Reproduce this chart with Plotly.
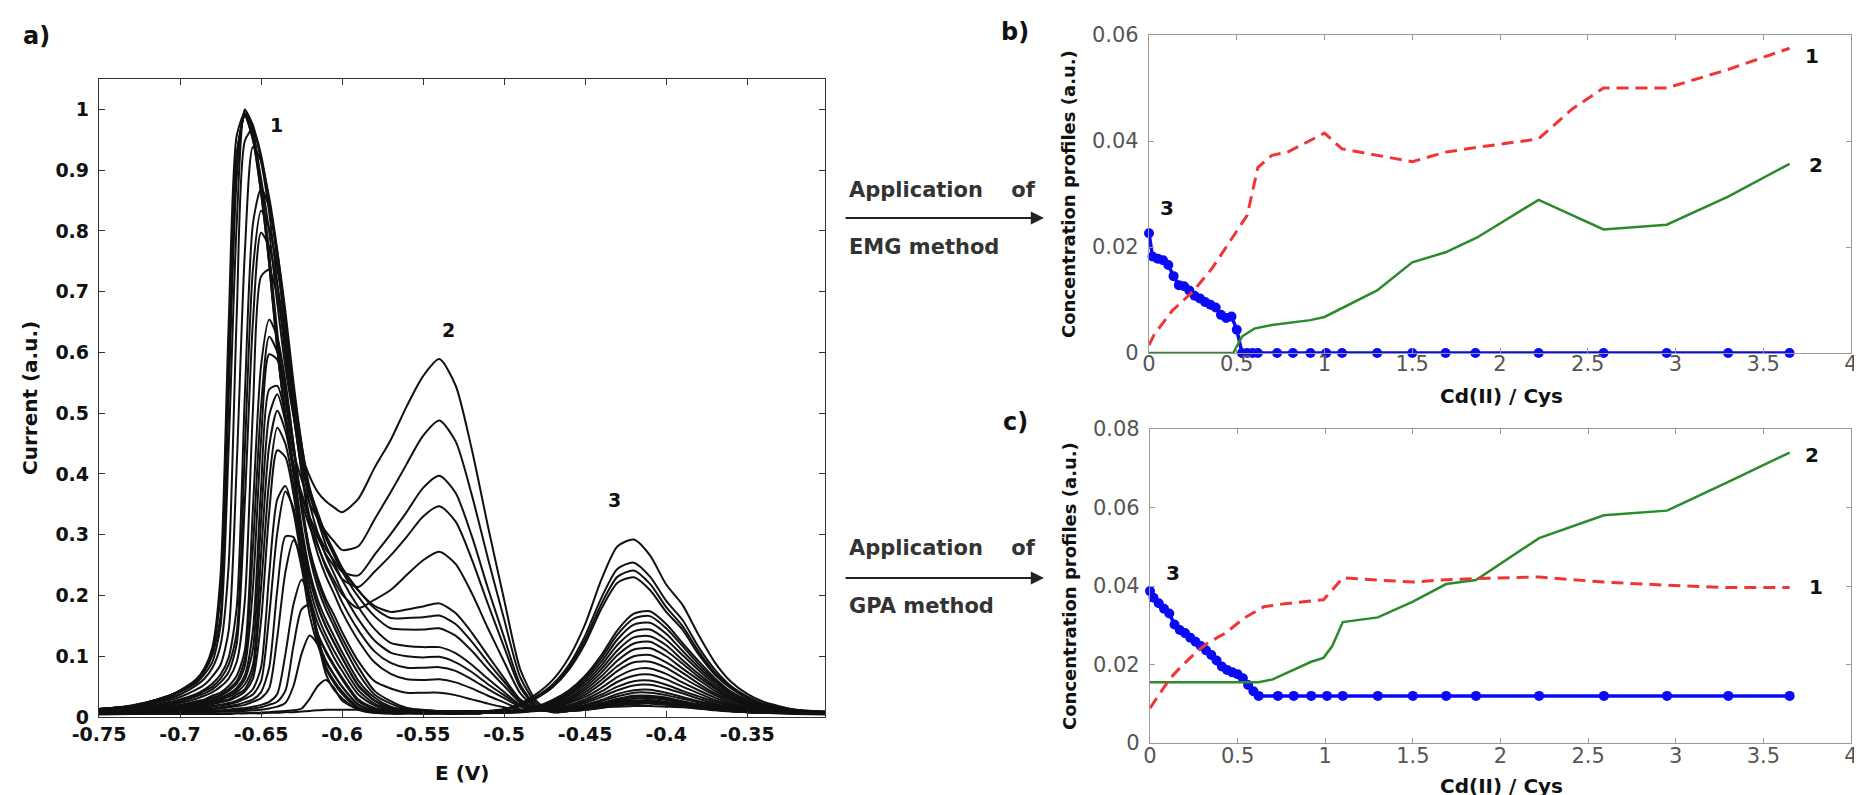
import plotly.graph_objects as go

W, H = 1862, 795

# ---------------- panel a) voltammograms ----------------
E = [-0.75, -0.73, -0.71, -0.70, -0.69, -0.685, -0.68, -0.675, -0.67, -0.665,
     -0.66, -0.655, -0.65, -0.645, -0.64, -0.635, -0.63, -0.625, -0.62, -0.615,
     -0.61, -0.605, -0.60, -0.59, -0.58, -0.57, -0.56, -0.55, -0.54, -0.53,
     -0.52, -0.51, -0.50, -0.49, -0.48, -0.47, -0.46, -0.45, -0.44, -0.43,
     -0.42, -0.41, -0.40, -0.39, -0.38, -0.37, -0.36, -0.35, -0.34, -0.32, -0.302]

i_00 = [0.004,0.005,0.005,0.005,0.005,0.005,0.005,0.005,0.005,0.006,
        0.006,0.006,0.006,0.007,0.007,0.008,0.008,0.009,0.010,0.011,
        0.012,0.012,0.012,0.012,0.012,0.011,0.011,0.010,0.010,0.010,
        0.010,0.010,0.010,0.010,0.011,0.012,0.013,0.014,0.016,0.017,
        0.018,0.018,0.017,0.016,0.014,0.012,0.010,0.008,0.007,0.005,0.004]
i_01 = [0.006,0.006,0.006,0.006,0.006,0.006,0.006,0.006,0.006,0.006,
        0.006,0.007,0.007,0.008,0.009,0.010,0.011,0.014,0.030,0.051,
        0.061,0.048,0.027,0.013,0.007,0.006,0.006,0.006,0.006,0.006,
        0.007,0.010,0.013,0.022,0.038,0.061,0.098,0.153,0.226,0.281,
        0.292,0.266,0.218,0.185,0.135,0.090,0.058,0.038,0.025,0.012,0.009]
i_02 = [0.007,0.007,0.007,0.007,0.008,0.008,0.008,0.009,0.009,0.010,
        0.010,0.011,0.012,0.014,0.017,0.023,0.051,0.104,0.134,0.119,
        0.071,0.045,0.031,0.012,0.007,0.006,0.006,0.006,0.006,0.006,
        0.007,0.009,0.012,0.020,0.034,0.054,0.086,0.134,0.196,0.244,
        0.254,0.231,0.191,0.160,0.115,0.078,0.051,0.034,0.022,0.012,0.009]
i_03 = [0.007,0.007,0.007,0.008,0.008,0.009,0.009,0.010,0.011,0.012,
        0.013,0.014,0.016,0.020,0.025,0.043,0.117,0.177,0.185,0.136,
        0.080,0.056,0.038,0.014,0.008,0.006,0.006,0.006,0.006,0.006,
        0.007,0.009,0.012,0.019,0.032,0.051,0.082,0.127,0.186,0.231,
        0.241,0.219,0.181,0.150,0.108,0.073,0.049,0.032,0.021,0.011,0.008]
i_04 = [0.007,0.007,0.008,0.008,0.009,0.010,0.010,0.011,0.012,0.014,
        0.015,0.017,0.020,0.025,0.038,0.103,0.185,0.226,0.196,0.127,
        0.083,0.060,0.042,0.016,0.008,0.006,0.006,0.006,0.006,0.006,
        0.007,0.009,0.012,0.018,0.031,0.049,0.078,0.121,0.178,0.221,
        0.230,0.209,0.173,0.144,0.103,0.070,0.047,0.031,0.021,0.011,0.008]
i_05 = [0.007,0.007,0.009,0.009,0.011,0.012,0.013,0.014,0.016,0.018,
        0.020,0.025,0.031,0.047,0.131,0.238,0.291,0.262,0.191,0.127,
        0.093,0.070,0.050,0.020,0.010,0.008,0.007,0.006,0.006,0.006,
        0.007,0.007,0.009,0.011,0.017,0.028,0.044,0.068,0.102,0.143,
        0.170,0.174,0.153,0.122,0.092,0.064,0.042,0.028,0.019,0.010,0.008]
i_06 = [0.007,0.008,0.009,0.010,0.012,0.013,0.014,0.016,0.018,0.020,
        0.024,0.029,0.041,0.081,0.209,0.297,0.296,0.246,0.168,0.119,
        0.090,0.069,0.050,0.021,0.011,0.008,0.007,0.006,0.006,0.006,
        0.007,0.007,0.008,0.011,0.017,0.027,0.042,0.065,0.097,0.136,
        0.162,0.166,0.146,0.117,0.087,0.061,0.040,0.027,0.018,0.010,0.008]
i_07 = [0.008,0.008,0.010,0.011,0.014,0.015,0.017,0.019,0.021,0.024,
        0.030,0.037,0.059,0.166,0.303,0.371,0.344,0.271,0.189,0.137,
        0.106,0.083,0.062,0.026,0.013,0.009,0.008,0.007,0.006,0.006,
        0.007,0.007,0.008,0.011,0.016,0.026,0.039,0.061,0.091,0.128,
        0.152,0.155,0.137,0.109,0.082,0.058,0.038,0.026,0.017,0.009,0.008]
i_08 = [0.008,0.008,0.010,0.012,0.014,0.016,0.018,0.020,0.023,0.027,
        0.034,0.046,0.082,0.234,0.358,0.380,0.337,0.259,0.185,0.137,
        0.109,0.086,0.065,0.029,0.015,0.010,0.008,0.007,0.007,0.006,
        0.006,0.007,0.008,0.010,0.015,0.024,0.037,0.057,0.085,0.119,
        0.141,0.144,0.127,0.102,0.077,0.054,0.036,0.024,0.017,0.009,0.007]
i_09 = [0.008,0.009,0.011,0.014,0.016,0.018,0.021,0.024,0.027,0.033,
        0.042,0.063,0.158,0.336,0.439,0.428,0.367,0.279,0.200,0.154,
        0.125,0.098,0.076,0.037,0.019,0.011,0.009,0.008,0.007,0.006,
        0.006,0.007,0.008,0.010,0.015,0.023,0.035,0.053,0.079,0.110,
        0.131,0.133,0.118,0.094,0.071,0.050,0.033,0.023,0.016,0.009,0.007]
i_10 = [0.008,0.009,0.012,0.014,0.017,0.020,0.022,0.026,0.029,0.037,
        0.046,0.074,0.213,0.389,0.476,0.450,0.382,0.293,0.215,0.167,
        0.135,0.109,0.086,0.044,0.022,0.013,0.010,0.008,0.007,0.007,
        0.006,0.007,0.008,0.010,0.014,0.022,0.032,0.049,0.073,0.102,
        0.121,0.124,0.109,0.088,0.066,0.047,0.031,0.022,0.015,0.009,0.007]
i_11 = [0.009,0.009,0.012,0.015,0.019,0.021,0.024,0.028,0.033,0.041,
        0.054,0.086,0.266,0.446,0.504,0.471,0.401,0.306,0.231,0.181,
        0.149,0.122,0.097,0.053,0.027,0.015,0.011,0.009,0.008,0.007,
        0.006,0.007,0.008,0.009,0.013,0.020,0.030,0.045,0.067,0.093,
        0.111,0.113,0.100,0.080,0.061,0.043,0.029,0.020,0.014,0.008,0.007]
i_12 = [0.009,0.009,0.013,0.016,0.020,0.022,0.026,0.030,0.036,0.045,
        0.062,0.112,0.324,0.496,0.531,0.486,0.406,0.306,0.229,0.184,
        0.149,0.123,0.098,0.051,0.027,0.015,0.011,0.009,0.008,0.007,
        0.006,0.007,0.008,0.009,0.012,0.019,0.028,0.041,0.061,0.084,
        0.100,0.102,0.090,0.073,0.055,0.039,0.027,0.019,0.013,0.008,0.007]
i_13 = [0.009,0.010,0.013,0.017,0.021,0.024,0.027,0.032,0.038,0.048,
        0.069,0.143,0.377,0.539,0.545,0.496,0.413,0.314,0.240,0.193,
        0.160,0.133,0.107,0.060,0.032,0.017,0.012,0.010,0.008,0.007,
        0.006,0.007,0.007,0.009,0.012,0.017,0.025,0.037,0.055,0.076,
        0.090,0.091,0.081,0.065,0.050,0.036,0.024,0.017,0.013,0.008,0.007]
i_14 = [0.009,0.010,0.014,0.018,0.023,0.026,0.030,0.035,0.043,0.055,
        0.084,0.213,0.456,0.597,0.588,0.531,0.441,0.342,0.264,0.213,
        0.177,0.149,0.121,0.072,0.037,0.022,0.013,0.011,0.009,0.008,
        0.006,0.007,0.007,0.008,0.011,0.016,0.023,0.033,0.048,0.066,
        0.078,0.080,0.071,0.057,0.044,0.032,0.022,0.016,0.012,0.008,0.007]
i_15 = [0.009,0.010,0.015,0.019,0.024,0.028,0.032,0.037,0.046,0.059,
        0.096,0.279,0.511,0.626,0.601,0.542,0.449,0.350,0.273,0.223,
        0.187,0.158,0.130,0.082,0.043,0.026,0.015,0.012,0.010,0.008,
        0.006,0.007,0.007,0.008,0.010,0.015,0.020,0.029,0.042,0.058,
        0.068,0.070,0.062,0.050,0.039,0.028,0.020,0.015,0.011,0.007,0.007]
i_16 = [0.009,0.011,0.016,0.020,0.026,0.029,0.035,0.040,0.051,0.068,
        0.110,0.344,0.578,0.654,0.625,0.553,0.450,0.353,0.276,0.229,
        0.194,0.168,0.140,0.092,0.059,0.047,0.040,0.040,0.040,0.036,
        0.029,0.022,0.016,0.011,0.011,0.013,0.018,0.026,0.037,0.050,
        0.059,0.060,0.053,0.043,0.034,0.025,0.018,0.013,0.010,0.007,0.007]
i_17 = [0.010,0.011,0.018,0.023,0.030,0.035,0.041,0.050,0.063,0.091,
        0.192,0.506,0.725,0.736,0.692,0.611,0.501,0.402,0.318,0.268,
        0.232,0.203,0.173,0.126,0.090,0.071,0.062,0.061,0.062,0.057,
        0.047,0.035,0.024,0.013,0.011,0.012,0.017,0.023,0.033,0.044,
        0.052,0.053,0.047,0.039,0.030,0.022,0.016,0.012,0.010,0.007,0.007]
i_18 = [0.010,0.013,0.020,0.025,0.034,0.039,0.046,0.057,0.074,0.121,
        0.354,0.651,0.797,0.774,0.711,0.625,0.508,0.407,0.329,0.284,
        0.246,0.218,0.189,0.143,0.108,0.089,0.081,0.081,0.082,0.076,
        0.062,0.046,0.031,0.017,0.011,0.011,0.015,0.020,0.028,0.038,
        0.044,0.045,0.040,0.033,0.026,0.020,0.014,0.011,0.009,0.007,0.006]
i_19 = [0.011,0.014,0.021,0.027,0.036,0.043,0.050,0.063,0.086,0.140,
        0.439,0.737,0.833,0.805,0.739,0.649,0.530,0.428,0.351,0.303,
        0.265,0.236,0.207,0.161,0.126,0.106,0.100,0.098,0.099,0.090,
        0.074,0.054,0.036,0.019,0.011,0.011,0.014,0.019,0.026,0.034,
        0.040,0.040,0.036,0.030,0.024,0.018,0.013,0.011,0.009,0.007,0.006]
i_20 = [0.011,0.014,0.023,0.029,0.038,0.045,0.055,0.070,0.098,0.181,
        0.529,0.812,0.869,0.839,0.766,0.668,0.551,0.449,0.368,0.324,
        0.283,0.254,0.226,0.181,0.145,0.122,0.117,0.115,0.115,0.105,
        0.086,0.063,0.041,0.020,0.012,0.010,0.013,0.017,0.023,0.030,
        0.035,0.035,0.032,0.026,0.021,0.016,0.012,0.010,0.008,0.007,0.006]
i_21 = [0.012,0.016,0.026,0.033,0.045,0.053,0.067,0.086,0.142,0.416,
        0.765,0.938,0.915,0.855,0.768,0.658,0.539,0.449,0.377,0.333,
        0.295,0.266,0.240,0.198,0.166,0.146,0.144,0.144,0.146,0.134,
        0.109,0.079,0.051,0.024,0.013,0.010,0.012,0.016,0.022,0.028,
        0.033,0.033,0.030,0.025,0.020,0.016,0.012,0.010,0.008,0.007,0.006]
i_22 = [0.012,0.017,0.028,0.037,0.052,0.063,0.081,0.118,0.249,0.662,
        0.948,0.968,0.925,0.848,0.752,0.634,0.519,0.435,0.375,0.336,
        0.300,0.273,0.246,0.209,0.179,0.163,0.163,0.164,0.167,0.153,
        0.124,0.090,0.058,0.027,0.014,0.009,0.012,0.015,0.020,0.026,
        0.030,0.031,0.028,0.023,0.019,0.015,0.011,0.009,0.008,0.007,0.006]
i_23 = [0.012,0.018,0.030,0.041,0.056,0.070,0.091,0.150,0.443,0.814,
        0.998,0.974,0.915,0.831,0.714,0.593,0.496,0.413,0.365,0.327,
        0.295,0.268,0.243,0.208,0.183,0.173,0.177,0.182,0.187,0.171,
        0.139,0.101,0.064,0.029,0.014,0.009,0.011,0.014,0.018,0.024,
        0.027,0.028,0.025,0.021,0.017,0.014,0.011,0.009,0.008,0.007,0.006]
i_24 = [0.013,0.018,0.031,0.042,0.059,0.075,0.102,0.167,0.527,0.888,
        1.000,0.966,0.876,0.762,0.611,0.496,0.410,0.355,0.313,0.281,
        0.250,0.225,0.202,0.179,0.193,0.209,0.234,0.258,0.272,0.252,
        0.204,0.146,0.091,0.039,0.015,0.009,0.010,0.013,0.017,0.022,
        0.025,0.026,0.023,0.020,0.016,0.013,0.010,0.009,0.008,0.006,0.006]
i_25 = [0.013,0.018,0.032,0.043,0.061,0.078,0.110,0.205,0.602,0.924,
        0.989,0.950,0.862,0.745,0.605,0.496,0.412,0.365,0.324,0.295,
        0.268,0.248,0.227,0.214,0.239,0.266,0.297,0.330,0.347,0.322,
        0.260,0.186,0.115,0.048,0.017,0.009,0.010,0.013,0.017,0.022,
        0.025,0.026,0.023,0.020,0.016,0.013,0.010,0.009,0.008,0.006,0.006]
i_26 = [0.013,0.018,0.032,0.043,0.061,0.078,0.110,0.205,0.602,0.925,
        0.990,0.951,0.863,0.747,0.607,0.498,0.415,0.369,0.329,0.302,
        0.276,0.258,0.239,0.233,0.267,0.301,0.338,0.377,0.397,0.369,
        0.298,0.212,0.131,0.053,0.018,0.008,0.010,0.012,0.016,0.020,
        0.023,0.024,0.021,0.018,0.015,0.012,0.010,0.008,0.007,0.006,0.006]
i_27 = [0.013,0.018,0.032,0.043,0.061,0.078,0.110,0.205,0.602,0.925,
        0.991,0.957,0.874,0.763,0.634,0.522,0.436,0.391,0.351,0.327,
        0.305,0.289,0.275,0.281,0.325,0.370,0.417,0.463,0.488,0.454,
        0.366,0.261,0.161,0.065,0.022,0.008,0.010,0.012,0.016,0.020,
        0.023,0.024,0.021,0.018,0.015,0.012,0.010,0.008,0.007,0.006,0.006]
i_28 = [0.013,0.019,0.032,0.044,0.062,0.080,0.115,0.233,0.646,0.957,
        0.994,0.958,0.886,0.799,0.681,0.576,0.496,0.433,0.396,0.370,
        0.355,0.345,0.337,0.359,0.410,0.456,0.512,0.561,0.589,0.546,
        0.441,0.314,0.193,0.078,0.026,0.008,0.010,0.012,0.015,0.019,
        0.021,0.022,0.020,0.017,0.014,0.011,0.009,0.008,0.007,0.006,0.006]

currents = [i_00, i_01, i_02, i_03, i_04, i_05, i_06, i_07, i_08, i_09,
            i_10, i_11, i_12, i_13, i_14, i_15, i_16, i_17, i_18, i_19,
            i_20, i_21, i_22, i_23, i_24, i_25, i_26, i_27, i_28]
for k, c in enumerate(currents):
    assert len(c) == len(E), (k, len(c))

e_ticks = [-0.75, -0.7, -0.65, -0.6, -0.55, -0.5, -0.45, -0.4, -0.35]
e_labels = ["-0.75", "-0.7", "-0.65", "-0.6", "-0.55", "-0.5", "-0.45", "-0.4", "-0.35"]
i_ticks = [0, 0.1, 0.2, 0.3, 0.4, 0.5, 0.6, 0.7, 0.8, 0.9, 1.0]
i_labels = ["0", "0.1", "0.2", "0.3", "0.4", "0.5", "0.6", "0.7", "0.8", "0.9", "1"]

# ---------------- panels b) and c) concentration profiles ----------------
ratio = [0, 0.02, 0.05, 0.08, 0.11, 0.14, 0.17, 0.2, 0.23, 0.26,
         0.29, 0.32, 0.35, 0.38, 0.41, 0.44, 0.47, 0.5, 0.53, 0.56,
         0.59, 0.62, 0.73, 0.82, 0.92, 1.01, 1.1, 1.3, 1.5, 1.69,
         1.86, 2.22, 2.59, 2.95, 3.3, 3.65]

emg_s3 = [0.0226, 0.0182, 0.0178, 0.0175, 0.0166, 0.0145, 0.0128, 0.0126, 0.0118, 0.0108,
          0.0103, 0.0096, 0.0091, 0.0086, 0.0072, 0.0066, 0.0069, 0.0044, 0, 0,
          0, 0, 0, 0, 0, 0, 0, 0, 0, 0,
          0, 0, 0, 0, 0, 0]
emg_s1_x = [0, 0.03, 0.13, 0.25, 0.36, 0.45, 0.56, 0.62, 0.70, 0.79, 0.91, 1.00,
            1.10, 1.30, 1.50, 1.69, 1.87, 2.22, 2.41, 2.59, 2.95, 3.30, 3.65]
emg_s1 = [0.0015, 0.0035, 0.0079, 0.0116, 0.0160, 0.0204, 0.0260, 0.0350, 0.0373, 0.0379, 0.0400, 0.0415,
          0.0385, 0.0373, 0.0361, 0.0379, 0.0388, 0.0404, 0.0460, 0.0500, 0.0500, 0.0535, 0.0575]
emg_s2_x = [0, 0.48, 0.53, 0.60, 0.70, 0.82, 0.92, 1.00, 1.10, 1.30, 1.50, 1.69,
            1.87, 2.22, 2.59, 2.95, 3.30, 3.65]
emg_s2 = [0, 0, 0.0031, 0.0046, 0.0053, 0.0058, 0.0062, 0.0068, 0.0085, 0.0118, 0.0171, 0.0190,
          0.0218, 0.0289, 0.0233, 0.0242, 0.0295, 0.0357]

gpa_s3 = [0.0387, 0.0370, 0.0356, 0.0342, 0.0330, 0.0302, 0.0288, 0.0280, 0.0268, 0.0258,
          0.0247, 0.0236, 0.0224, 0.0210, 0.0195, 0.0186, 0.0180, 0.0175, 0.0165, 0.0148,
          0.0132, 0.0120, 0.0120, 0.0120, 0.0120, 0.0120, 0.0120, 0.0120, 0.0120, 0.0120,
          0.0120, 0.0120, 0.0120, 0.0120, 0.0120, 0.0120]
gpa_s1_x = [0, 0.07, 0.11, 0.18, 0.26, 0.33, 0.43, 0.54, 0.65, 0.77, 0.88, 0.99,
            1.05, 1.10, 1.30, 1.50, 1.69, 1.86, 2.22, 2.59, 2.95, 3.30, 3.65]
gpa_s1 = [0.0089, 0.0136, 0.0162, 0.0196, 0.0230, 0.0255, 0.0280, 0.0319, 0.0347, 0.0355, 0.0360, 0.0365,
          0.0395, 0.0421, 0.0415, 0.0410, 0.0416, 0.0419, 0.0423, 0.0410, 0.0402, 0.0396, 0.0396]
gpa_s2_x = [0, 0.62, 0.70, 0.80, 0.92, 0.99, 1.04, 1.10, 1.30, 1.50, 1.69, 1.86,
            2.22, 2.59, 2.95, 3.30, 3.65]
gpa_s2 = [0.0155, 0.0155, 0.0162, 0.0183, 0.0207, 0.0217, 0.0247, 0.0308, 0.0320, 0.0360, 0.0405, 0.0415,
          0.0522, 0.0580, 0.0592, 0.0665, 0.0740]

r_ticks = [0, 0.5, 1, 1.5, 2, 2.5, 3, 3.5, 4]
r_labels = ["0", "0.5", "1", "1.5", "2", "2.5", "3", "3.5", "4"]
b_ticks = [0, 0.02, 0.04, 0.06]
b_labels = ["0", "0.02", "0.04", "0.06"]
c_ticks = [0, 0.02, 0.04, 0.06, 0.08]
c_labels = ["0", "0.02", "0.04", "0.06", "0.08"]

RED, GREEN, BLUE = "#ee3636", "#2b8a2b", "#0a0af5"
FONT = "DejaVu Sans"

fig = go.Figure()
for c in currents:
    fig.add_trace(go.Scatter(x=E, y=c, mode="lines", xaxis="x", yaxis="y",
                             line=dict(color="#111111", width=2.0, shape="spline", smoothing=0.7),
                             hoverinfo="skip", showlegend=False))

def profiles(xa, ya, s3, s1x, s1, s2x, s2):
    fig.add_trace(go.Scatter(x=ratio, y=s3, mode="lines+markers", xaxis=xa, yaxis=ya,
                             line=dict(color=BLUE, width=3.5), marker=dict(color=BLUE, size=10),
                             cliponaxis=False, showlegend=False, hoverinfo="skip"))
    fig.add_trace(go.Scatter(x=s2x, y=s2, mode="lines", xaxis=xa, yaxis=ya,
                             line=dict(color=GREEN, width=2.5), showlegend=False, hoverinfo="skip"))
    fig.add_trace(go.Scatter(x=s1x, y=s1, mode="lines", xaxis=xa, yaxis=ya,
                             line=dict(color=RED, width=3, dash="12px,7px"),
                             showlegend=False, hoverinfo="skip"))

profiles("x2", "y2", emg_s3, emg_s1_x, emg_s1, emg_s2_x, emg_s2)
profiles("x3", "y3", gpa_s3, gpa_s1_x, gpa_s1, gpa_s2_x, gpa_s2)

def px(xp):
    return xp / W

def py(yp):
    return 1 - yp / H

bold_a = dict(family=FONT, size=19, color="#111111", weight="bold")
axis_a = dict(showline=True, linecolor="#333333", linewidth=1.3, mirror="ticks",
              ticks="inside", ticklen=6, tickcolor="#333333", showgrid=False,
              zeroline=False, tickfont=bold_a, automargin=False, ticklabeloverflow="allow")
light = dict(family=FONT, size=21, color="#555555")
axis_bc = dict(showline=True, linecolor="#9a9a9a", linewidth=1.3, mirror="ticks",
               ticks="inside", ticklen=5, tickcolor="#9a9a9a", showgrid=False,
               zeroline=False, tickfont=light, automargin=False, ticklabeloverflow="allow")

fig.update_layout(
    width=W, height=H, margin=dict(l=0, r=0, t=0, b=0, autoexpand=False),
    paper_bgcolor="white", plot_bgcolor="white", showlegend=False,
    xaxis=dict(axis_a, domain=[px(91), px(817)], range=[-0.75, -0.302],
               tickvals=e_ticks, ticktext=e_labels, anchor="y", ticklabelstandoff=0),
    yaxis=dict(axis_a, domain=[py(709), py(71)], range=[0, 1.05],
               tickvals=i_ticks, ticktext=i_labels, anchor="x", ticklabelstandoff=5),
    xaxis2=dict(axis_bc, domain=[px(1141), px(1843)], range=[0, 4],
                tickvals=r_ticks, ticktext=r_labels, anchor="y2", ticklabelstandoff=-8),
    yaxis2=dict(axis_bc, domain=[py(345), py(27)], range=[0, 0.06],
                tickvals=b_ticks, ticktext=b_labels, anchor="x2", ticklabelstandoff=5),
    xaxis3=dict(axis_bc, domain=[px(1142), px(1843)], range=[0, 4],
                tickvals=r_ticks, ticktext=r_labels, anchor="y3", ticklabelstandoff=-6),
    yaxis3=dict(axis_bc, domain=[py(735), py(421)], range=[0, 0.08],
                tickvals=c_ticks, ticktext=c_labels, anchor="x3", ticklabelstandoff=5),
)

ann = []
def txt(text, x, y, size=18, xref="paper", yref="paper", angle=0, color="#111111",
        xanchor="center", yanchor="middle"):
    ann.append(dict(text=text, x=x, y=y, xref=xref, yref=yref, showarrow=False,
                    textangle=angle, xanchor=xanchor, yanchor=yanchor,
                    font=dict(family=FONT, size=size, color=color, weight="bold")))

# panel letters
txt("a)", px(28), py(28), size=24)
txt("b)", px(1007), py(24), size=24)
txt("c)", px(1007), py(414), size=24)

# axis titles
txt("E (V)", px(454), py(765), size=20)
txt("Current (a.u.)", px(22), py(390), size=20, angle=-90)
txt("Concentration profiles (a.u.)", px(1061), py(186), size=18, angle=-90)
txt("Cd(II) / Cys", px(1493), py(388), size=20)
txt("Concentration profiles (a.u.)", px(1061), py(578), size=18, angle=-90)
txt("Cd(II) / Cys", px(1493), py(778), size=20)

# peak labels
txt("1", -0.6405, 0.975, size=19, xref="x", yref="y")
txt("2", -0.5344, 0.637, size=19, xref="x", yref="y")
txt("3", -0.432, 0.357, size=19, xref="x", yref="y")
txt("1", 3.78, 0.0560, size=20, xref="x2", yref="y2")
txt("2", 3.80, 0.0354, size=20, xref="x2", yref="y2")
txt("3", 0.10, 0.0274, size=20, xref="x2", yref="y2")
txt("2", 3.78, 0.0733, size=20, xref="x3", yref="y3")
txt("1", 3.80, 0.0398, size=20, xref="x3", yref="y3")
txt("3", 0.13, 0.0433, size=20, xref="x3", yref="y3")

# method arrows
SP = "\u2002\u2002 "
txt("Application" + SP + "of", px(839), py(182), size=21, color="#333333", xanchor="left")
txt("EMG method", px(839), py(239), size=21, color="#333333", xanchor="left")
txt("Application" + SP + "of", px(839), py(540), size=21, color="#333333", xanchor="left")
txt("GPA method", px(839), py(598), size=21, color="#333333", xanchor="left")
for yy in (210, 570):
    ann.append(dict(x=px(1036), y=py(yy), xref="paper", yref="paper", text="",
                    showarrow=True, ax=-200, ay=0, axref="pixel", ayref="pixel",
                    arrowhead=2, arrowsize=1.2, arrowwidth=2.2, arrowcolor="#222222"))

fig.update_layout(annotations=ann)
fig.write_html("out.html")
